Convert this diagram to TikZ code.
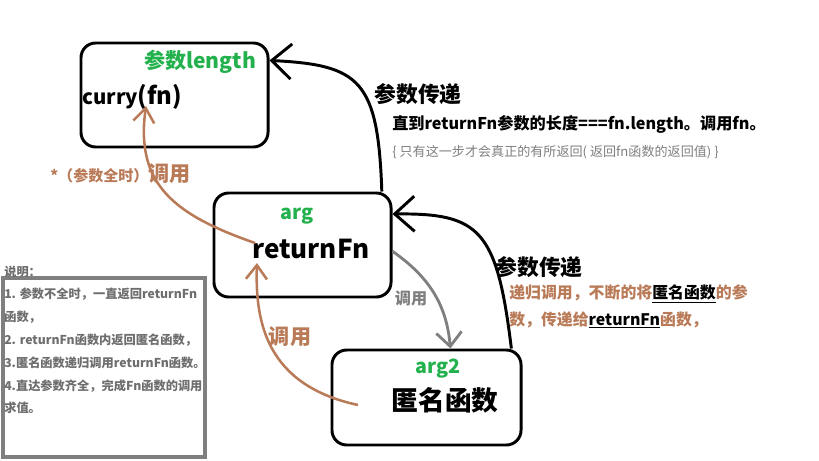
\documentclass[tikz,border=0pt]{standalone}
\usepackage{fontspec}
\setmainfont{Noto Sans CJK SC}
\usepackage{tikz}
\usetikzlibrary{arrows.meta}

\definecolor{paintgreen}{RGB}{34,177,76}
\definecolor{paintbrown}{RGB}{185,122,87}
\definecolor{paintgrey}{RGB}{127,127,127}
\definecolor{notegrey}{RGB}{110,110,110}

\begin{document}
\begin{tikzpicture}[
x=0.025cm, y=-0.025cm,
box/.style={draw,line width=2.1pt,rounded corners=10.5pt,inner sep=0pt},
notebox/.style={draw=paintgrey,line width=2.2pt,inner sep=0pt},
txt/.style={inner sep=0pt,font=\bfseries},
argtxt/.style={inner sep=0pt,text=paintgreen,font=\bfseries\fontsize{14pt}{16pt}\selectfont},
headtxt/.style={inner sep=0pt,font=\bfseries\fontsize{15.5pt}{18pt}\selectfont},
blackarrow/.style={-{Straight Barb[length=14pt,width=25pt]},line width=2.1pt},
brownarrow/.style={-{Straight Barb[length=10pt,width=15pt]},line width=1.8pt,draw=paintbrown},
greyarrow/.style={-{Straight Barb[length=10pt,width=18pt]},line width=2pt,draw=paintgrey}]

\useasboundingbox (0,0) rectangle (819,460);

\node[box, minimum width=4.675cm, minimum height=2.6cm] (curryBox) at (174.5,95) {};

\node[box, minimum width=4.425cm, minimum height=2.6cm] (retBox) at (302.5,245) {};

\node[box, minimum width=4.725cm, minimum height=2.375cm] (anonBox) at (426.5,397.5) {};

\node[notebox, minimum width=5.05cm, minimum height=4.475cm] (noteBox) at (104,367.5) {};

\node[argtxt, font=\bfseries\fontsize{15pt}{17pt}\selectfont] (lenArg) at (200,62) {参数length};

\node[txt, anchor=base west, font=\bfseries\fontsize{14.5pt}{16pt}\selectfont] (curryTxt) at (82,104) {curry{\fontsize{17pt}{18pt}\selectfont(fn)}};

\node[argtxt] (retArg) at (297,216) {arg};

\node[txt, anchor=west, font=\bfseries\fontsize{18.5pt}{21pt}\selectfont] (retTxt) at (252,249) {returnFn};

\node[argtxt] (anonArg) at (438,369) {arg2};

\node[txt, font=\bfseries\fontsize{19pt}{22pt}\selectfont] (anonTxt) at (445,400) {匿名函数};

\node[headtxt] (passUp) at (418,94) {参数传递};

\node[txt, anchor=west, font=\bfseries\fontsize{11.5pt}{14pt}\selectfont] (untilTxt) at (392,124) {直到returnFn参数的长度===fn.length。调用fn。};

\node[txt, anchor=west, text=paintgrey, font=\fontsize{9.3pt}{11pt}\selectfont] (onlyTxt) at (392,152) {\{ 只有这一步才会真正的有所返回( 返回fn函数的返回值) \}};

\node[headtxt] (passDown) at (539,267) {参数传递};

\node[txt, anchor=west, align=left, text=paintbrown, font=\bfseries\fontsize{11.3pt}{19.2pt}\selectfont] (recurTxt) at (509,306.5) {递归调用，不断的将\textcolor{black}{\underline{匿名函数}}的参\\数，传递给\textcolor{black}{\underline{returnFn}}函数，};

\node[txt, text=paintbrown, font=\bfseries\fontsize{15pt}{17pt}\selectfont] (callUp) at (290,337) {调用};

\node[txt, text=paintgrey, font=\bfseries\fontsize{11.5pt}{13pt}\selectfont] (callDown) at (411,298) {调用};

\node[txt, anchor=west, text=paintbrown, font=\bfseries\fontsize{10.7pt}{12pt}\selectfont] (fullTxt) at (50,174) {*（参数全时）{\fontsize{15pt}{17pt}\selectfont 调用}};

\node[txt, anchor=west, text=notegrey, font=\bfseries\fontsize{8.7pt}{10pt}\selectfont] (noteHead) at (4,272) {说明：};

\node[txt, anchor=north west, align=left, text=notegrey, font=\bfseries\fontsize{8.7pt}{16.2pt}\selectfont] (noteTxt) at (4,288) {1. 参数不全时，一直返回returnFn\\函数，\\2. returnFn函数内返回匿名函数，\\3.匿名函数递归调用returnFn函数。\\4.直达参数齐全，完成Fn函数的调用\\求值。};

\coordinate (anonFrom) at (358,405);
\coordinate (retTo) at (257,263);
\coordinate (retFrom) at (255,243);
\coordinate (curryTo) at (146,106);

\draw[blackarrow] (retBox.34) .. controls (378,80) and (360,65) .. (curryBox.20);

\draw[blackarrow] (anonBox.30) .. controls (497,230) and (480,213) .. (retBox.19);

\draw[greyarrow] (retBox.-4) to[out=-35,in=95] (anonBox.64);

\draw[brownarrow] (anonFrom) .. controls (265,385) and (255,320) .. (retTo);

\draw[brownarrow] (retFrom) .. controls (175,215) and (135,185) .. (curryTo);

\end{tikzpicture}
\end{document}
